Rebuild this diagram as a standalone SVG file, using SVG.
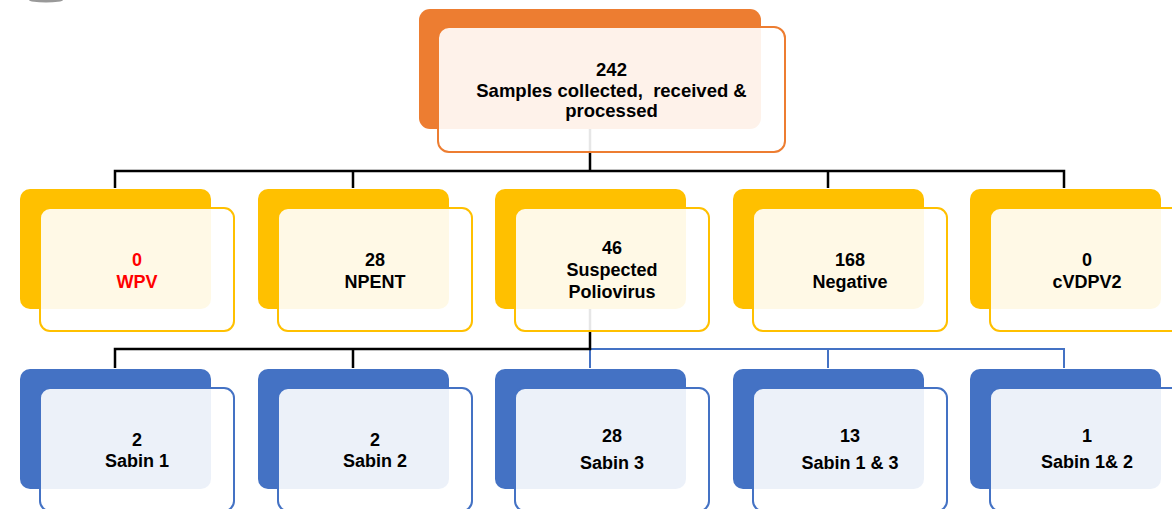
<svg xmlns="http://www.w3.org/2000/svg" width="1172" height="509" viewBox="0 0 1172 509">
<style>
.t{font-family:"Liberation Sans",Arial,sans-serif;font-weight:bold;font-size:18px;fill:#000;text-anchor:middle}
.big{font-size:18.5px}
.red{fill:#FF0000}
.front{fill:#FFFFFF;fill-opacity:0.9;stroke-width:2}
.o .back{fill:#ED7D31}.o .front{stroke:#ED7D31}
.y .back{fill:#FFC000}.y .front{stroke:#FFC000}
.b .back{fill:#4472C4}.b .front{stroke:#4472C4}
.k{fill:none;stroke:#000;stroke-width:2.5}
.bl{fill:none;stroke:#4472C4;stroke-width:2}
</style>
<rect width="1172" height="509" fill="#fff"/>
<ellipse cx="46" cy="0" rx="17" ry="2.5" fill="#555" opacity="0.6"/>
<g id="connectors">
<path class="k" d="M590,129 V171 M115,188 V171 H1064 V188 M353,171 V188 M828,171 V188"/>
<path class="bl" d="M590,349 H1064 V368 M590,349 V368 M828,349 V368"/>
<path class="k" d="M590,309 V349 H115 V368 M353,349 V368"/>
</g>
<g id="n-total" class="o">
<rect class="back" x="419" y="9" width="342" height="120" rx="11"/>
<rect class="front" x="438" y="27" width="347" height="125" rx="11"/>
<text class="t big" x="611.5" y="76">242</text>
<text class="t big" x="611.5" y="97" xml:space="preserve">Samples collected,  received &amp;</text>
<text class="t big" x="611.5" y="117">processed</text>
</g>
<g id="n-wpv" class="y">
<rect class="back" x="20" y="189" width="191" height="120" rx="10"/>
<rect class="front" x="40" y="208" width="194" height="123" rx="10"/>
<text class="t red" x="137" y="266">0</text>
<text class="t red" x="137" y="288">WPV</text>
</g>
<g id="n-npent" class="y">
<rect class="back" x="258" y="189" width="191" height="120" rx="10"/>
<rect class="front" x="278" y="208" width="194" height="123" rx="10"/>
<text class="t" x="375" y="266">28</text>
<text class="t" x="375" y="288">NPENT</text>
</g>
<g id="n-suspected" class="y">
<rect class="back" x="495" y="189" width="191" height="120" rx="10"/>
<rect class="front" x="515" y="208" width="194" height="123" rx="10"/>
<text class="t" x="612" y="254">46</text>
<text class="t" x="612" y="276">Suspected</text>
<text class="t" x="612" y="298">Poliovirus</text>
</g>
<g id="n-negative" class="y">
<rect class="back" x="733" y="189" width="191" height="120" rx="10"/>
<rect class="front" x="753" y="208" width="194" height="123" rx="10"/>
<text class="t" x="850" y="266">168</text>
<text class="t" x="850" y="288">Negative</text>
</g>
<g id="n-cvdpv2" class="y">
<rect class="back" x="970" y="189" width="191" height="120" rx="10"/>
<rect class="front" x="990" y="208" width="194" height="123" rx="10"/>
<text class="t" x="1087" y="266">0</text>
<text class="t" x="1087" y="288">cVDPV2</text>
</g>
<g id="n-sabin1" class="b">
<rect class="back" x="20" y="369" width="191" height="120" rx="10"/>
<rect class="front" x="40" y="388" width="194" height="123" rx="10"/>
<text class="t" x="137" y="446">2</text>
<text class="t" x="137" y="467">Sabin 1</text>
</g>
<g id="n-sabin2" class="b">
<rect class="back" x="258" y="369" width="191" height="120" rx="10"/>
<rect class="front" x="278" y="388" width="194" height="123" rx="10"/>
<text class="t" x="375" y="446">2</text>
<text class="t" x="375" y="467">Sabin 2</text>
</g>
<g id="n-sabin3" class="b">
<rect class="back" x="495" y="369" width="191" height="120" rx="10"/>
<rect class="front" x="515" y="388" width="194" height="123" rx="10"/>
<text class="t" x="612" y="442">28</text>
<text class="t" x="612" y="469">Sabin 3</text>
</g>
<g id="n-sabin13" class="b">
<rect class="back" x="733" y="369" width="191" height="120" rx="10"/>
<rect class="front" x="753" y="388" width="194" height="123" rx="10"/>
<text class="t" x="850" y="442">13</text>
<text class="t" x="850" y="469">Sabin 1 &amp; 3</text>
</g>
<g id="n-sabin12" class="b">
<rect class="back" x="970" y="369" width="191" height="120" rx="10"/>
<rect class="front" x="990" y="388" width="194" height="123" rx="10"/>
<text class="t" x="1087" y="442">1</text>
<text class="t" x="1087" y="468">Sabin 1&amp; 2</text>
</g>
</svg>
